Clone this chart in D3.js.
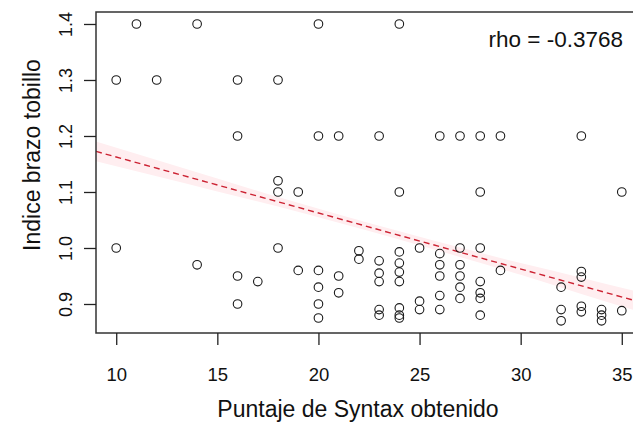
<!DOCTYPE html>
<html>
<head>
<meta charset="utf-8">
<script src="https://cdn.jsdelivr.net/npm/d3@7"></script>
<style>
  html, body { margin: 0; padding: 0; background: #fff; }
  svg { display: block; }
  text { font-family: "Liberation Sans", Arial, Helvetica, sans-serif; fill: #111; }
</style>
</head>
<body>
<svg id="chart" width="633" height="425"></svg>
<script>
// ---- data ----
const syntaxScore = [
  11, 14, 20, 24,
  10, 12, 16, 18,
  16, 20, 21, 23, 26, 27, 28, 29, 33,
  18, 18, 19, 24, 28, 35,
  10, 18,
  14,
  16, 16,
  17,
  19,
  20, 20, 20, 20,
  21, 21,
  22, 22,
  23, 23, 23, 23, 23,
  24, 24, 24, 24, 24, 24, 24,
  25, 25, 25,
  26, 26, 26, 26, 26,
  27, 27, 27, 27, 27,
  28, 28, 28, 28, 28,
  29,
  32, 32, 32,
  33, 33, 33, 33,
  34, 34, 34,
  35
];
const ankleBrachialIndex = [
  1.40, 1.40, 1.40, 1.40,
  1.30, 1.30, 1.30, 1.30,
  1.20, 1.20, 1.20, 1.20, 1.20, 1.20, 1.20, 1.20, 1.20,
  1.12, 1.10, 1.10, 1.10, 1.10, 1.10,
  1.00, 1.00,
  0.97,
  0.95, 0.90,
  0.94,
  0.96,
  0.96, 0.93, 0.90, 0.875,
  0.95, 0.92,
  0.995, 0.98,
  0.977, 0.955, 0.94, 0.89, 0.88,
  0.993, 0.973, 0.957, 0.94, 0.893, 0.88, 0.875,
  1.00, 0.905, 0.89,
  0.99, 0.97, 0.95, 0.915, 0.89,
  1.00, 0.97, 0.95, 0.93, 0.91,
  1.00, 0.94, 0.92, 0.91, 0.88,
  0.96,
  0.93, 0.89, 0.87,
  0.958, 0.948, 0.896, 0.886,
  0.89, 0.88, 0.87,
  0.888
];
// fitted regression line (end points at the plot edges)
const fitX = [9, 36];
const fitY = [1.1725, 0.9025];
// confidence band of the fit
const bandX  = [9, 12, 15, 18, 21, 24, 27, 30, 33, 36];
const bandLo = [1.155, 1.128, 1.101, 1.074, 1.045, 1.015, 0.984, 0.952, 0.918, 0.885];
const bandHi = [1.190, 1.157, 1.124, 1.091, 1.060, 1.030, 1.001, 0.973, 0.947, 0.920];
// ticks and labels
const xTicks = [10, 15, 20, 25, 30, 35];
const yTicks = [0.9, 1.0, 1.1, 1.2, 1.3, 1.4];
const yTickLabels = ["0.9", "1.0", "1.1", "1.2", "1.3", "1.4"];
const xTitle = "Puntaje de Syntax obtenido";
const yTitle = "Indice brazo tobillo";
const rhoLabel = "rho = -0.3768";

// ---- layout ----
const svg = d3.select("#chart");
const mLeft = 96, mRight = 642, mTop = 12, mBottom = 333;

const x = d3.scaleLinear().domain([9, 36]).range([mLeft, mRight]);
const y = d3.scaleLinear().domain([0.8482, 1.4214]).range([mBottom, mTop]);

svg.append("defs").append("clipPath").attr("id", "plotclip")
  .append("rect").attr("x", mLeft).attr("y", mTop)
  .attr("width", mRight - mLeft).attr("height", mBottom - mTop);

const plot = svg.append("g").attr("clip-path", "url(#plotclip)");

// confidence band
const bandData = bandX.map((d, i) => ({ x: d, lo: bandLo[i], hi: bandHi[i] }));
plot.append("path")
  .datum(bandData)
  .attr("d", d3.area().x(d => x(d.x)).y0(d => y(d.lo)).y1(d => y(d.hi)).curve(d3.curveMonotoneX))
  .attr("fill", "#ffeef0");

// regression line
plot.append("path")
  .datum(fitX.map((d, i) => ({ x: d, y: fitY[i] })))
  .attr("d", d3.line().x(d => x(d.x)).y(d => y(d.y)))
  .attr("fill", "none")
  .attr("stroke", "#cc2232")
  .attr("stroke-width", 1.4)
  .attr("stroke-dasharray", "6,4");

// points
plot.selectAll("circle.pt")
  .data(syntaxScore.map((d, i) => ({ x: d, y: ankleBrachialIndex[i] })))
  .join("circle")
  .attr("class", "pt")
  .attr("cx", d => x(d.x))
  .attr("cy", d => y(d.y))
  .attr("r", 4.3)
  .attr("fill", "none")
  .attr("stroke", "#1a1a1a")
  .attr("stroke-width", 1.1);

// box
svg.append("rect")
  .attr("x", mLeft).attr("y", mTop)
  .attr("width", mRight - mLeft).attr("height", mBottom - mTop)
  .attr("fill", "none").attr("stroke", "#333").attr("stroke-width", 1.5);

// x axis
const xAxis = svg.append("g").attr("transform", `translate(0,${mBottom})`)
  .call(d3.axisBottom(x).tickValues(xTicks).tickSize(12).tickSizeOuter(0).tickFormat(d3.format("d")));
xAxis.select(".domain").remove();
xAxis.selectAll(".tick line").attr("stroke", "#222").attr("stroke-width", 1.3);
xAxis.selectAll(".tick text")
  .attr("y", 48).attr("dy", 0)
  .style("font-size", "18.5px")
  .style("font-family", "'Liberation Sans', Arial, sans-serif")
  .attr("fill", "#222");

// y axis
const yAxis = svg.append("g").attr("transform", `translate(${mLeft},0)`)
  .call(d3.axisLeft(y).tickValues(yTicks).tickSize(12).tickSizeOuter(0)
    .tickFormat((d, i) => yTickLabels[i]));
yAxis.select(".domain").remove();
yAxis.selectAll(".tick line").attr("stroke", "#222").attr("stroke-width", 1.3);
yAxis.selectAll(".tick text")
  .attr("transform", "rotate(-90)")
  .attr("x", 0).attr("y", -24).attr("dy", 0)
  .attr("text-anchor", "middle")
  .style("font-size", "18px")
  .style("font-family", "'Liberation Sans', Arial, sans-serif")
  .attr("fill", "#222");

// axis titles
svg.append("text")
  .attr("x", 358).attr("y", 417)
  .attr("text-anchor", "middle")
  .style("font-size", "23px")
  .text(xTitle);

svg.append("text")
  .attr("transform", "translate(40,155) rotate(-90)")
  .attr("text-anchor", "middle")
  .style("font-size", "23px")
  .text(yTitle);

// rho annotation
svg.append("text")
  .attr("x", 623).attr("y", 47)
  .attr("text-anchor", "end")
  .style("font-size", "22.5px")
  .text(rhoLabel);
</script>
</body>
</html>
